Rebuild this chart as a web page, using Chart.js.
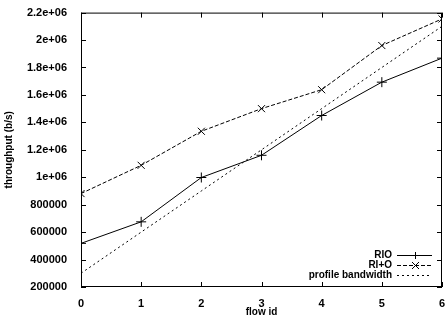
<!DOCTYPE html>
<html lang="en">
<head>
	<meta charset="UTF-8" />
	<title>throughput per flow</title>
	<script src="https://cdn.jsdelivr.net/npm/chart.js@4.4.1/dist/chart.umd.min.js"></script>
	<style>
		body { margin: 0; background: #fff; }
	</style>
</head>
<body>
	<canvas id="myChart" width="448" height="320"></canvas>
	<script>
		// values
		const flowIds = [0, 1, 2, 3, 4, 5, 6];
		const rio = [518000, 675000, 998000, 1160000, 1450000, 1693000, 1868000];
		const riPlusO = [881000, 1087000, 1335000, 1500000, 1638000, 1960000, 2154000];
		const profile = [300000, 600000, 900000, 1200000, 1500000, 1800000, 2100000];
		const yTicks = [200000, 400000, 600000, 800000, 1000000, 1200000, 1400000, 1600000, 1800000, 2000000, 2200000];

		const FONT = 'Liberation Sans, Arial, sans-serif';

		function fmt(v) {
			if (v >= 1000000) return (Math.round(v / 100000) / 10) + 'e+06';
			return String(v);
		}

		function pts(ys) {
			return flowIds.map((x, i) => ({ x: x, y: ys[i] }));
		}

		// gnuplot style: box border, ticks pointing inwards on all four sides
		const frame = {
			id: 'frame',
			afterDraw(chart) {
				const { ctx, chartArea: a, scales } = chart;
				ctx.save();
				ctx.strokeStyle = '#000';
				ctx.lineWidth = 1;
				ctx.strokeRect(a.left + 0.5, a.top + 0.5, a.right - a.left - 1, a.bottom - a.top - 1);
				ctx.beginPath();
				scales.y.ticks.forEach(t => {
					const y = Math.round(scales.y.getPixelForValue(t.value)) + 0.5;
					ctx.moveTo(a.left, y); ctx.lineTo(a.left + 5, y);
					ctx.moveTo(a.right, y); ctx.lineTo(a.right - 5, y);
				});
				scales.x.ticks.forEach(t => {
					const x = Math.round(scales.x.getPixelForValue(t.value)) + 0.5;
					ctx.moveTo(x, a.bottom); ctx.lineTo(x, a.bottom - 5);
					ctx.moveTo(x, a.top); ctx.lineTo(x, a.top + 5);
				});
				ctx.stroke();

				// legend in the lower right corner, text then sample line
				ctx.font = 'bold 10px ' + FONT;
				ctx.fillStyle = '#000';
				ctx.textAlign = 'right';
				ctx.textBaseline = 'middle';
				chart.data.datasets.forEach((ds, i) => {
					const y = 255 + i * 10 + 0.5;
					ctx.fillText(ds.label, 392, y);
					ctx.setLineDash(ds.borderDash || []);
					ctx.beginPath();
					ctx.moveTo(397, y); ctx.lineTo(432, y);
					ctx.stroke();
					ctx.setLineDash([]);
					if (ds.pointStyle && ds.pointRadius > 0) {
						const r = 3.5;
						const cx = 415.5;
						ctx.beginPath();
						if (ds.pointStyle === 'cross') {
							ctx.moveTo(cx, y - r); ctx.lineTo(cx, y + r);
							ctx.moveTo(cx - r, y); ctx.lineTo(cx + r, y);
						} else {
							ctx.moveTo(cx - r, y - r); ctx.lineTo(cx + r, y + r);
							ctx.moveTo(cx - r, y + r); ctx.lineTo(cx + r, y - r);
						}
						ctx.stroke();
					}
				});
				ctx.restore();
			}
		};

		const ctx = document.getElementById('myChart').getContext('2d');
		const myChart = new Chart(ctx, {
			type: 'line',
			data: {
				datasets: [{
						label: 'RIO',
						data: pts(rio),
						borderColor: '#000',
						borderWidth: 1,
						pointStyle: 'cross',
						pointRadius: 5,
						pointBorderColor: '#000',
						pointBorderWidth: 1,
						tension: 0
					},
					{
						label: 'RI+O',
						data: pts(riPlusO),
						borderColor: '#000',
						borderWidth: 1,
						borderDash: [4, 2],
						pointStyle: 'crossRot',
						pointRadius: 5,
						pointBorderColor: '#000',
						pointBorderWidth: 1,
						tension: 0
					},
					{
						label: 'profile bandwidth',
						data: pts(profile),
						borderColor: '#000',
						borderWidth: 1,
						borderDash: [2, 3],
						pointRadius: 0,
						tension: 0
					}
				]
			},
			options: {
				responsive: false,
				animation: false,
				layout: { padding: { top: 12, right: 1, left: 0, bottom: 0 } },
				plugins: {
					legend: { display: false },
					tooltip: { enabled: false }
				},
				scales: {
					x: {
						type: 'linear',
						min: 0,
						max: 6,
						grid: { display: false },
						border: { display: false },
						afterFit: s => { s.height = 33; },
						ticks: {
							stepSize: 1,
							color: '#000',
							padding: 2,
							font: { family: FONT, size: 11, weight: 'bold' }
						},
						title: {
							display: true,
							text: 'flow id',
							color: '#000',
							padding: { top: 0, bottom: 2 },
							font: { family: FONT, size: 10, weight: 'bold' }
						}
					},
					y: {
						min: 200000,
						max: 2200000,
						grid: { display: false },
						border: { display: false },
						afterFit: s => { s.width = 81; },
						afterBuildTicks: s => { s.ticks = yTicks.map(v => ({ value: v })); },
						ticks: {
							color: '#000',
							padding: 6,
							callback: v => fmt(v),
							font: { family: FONT, size: 11, weight: 'bold' }
						},
						title: {
							display: true,
							text: 'throughput (b/s)',
							color: '#000',
							padding: { top: 3, bottom: 4 },
							font: { family: FONT, size: 10, weight: 'bold' }
						}
					}
				}
			},
			plugins: [frame]
		});
	</script>
</body>
</html>
